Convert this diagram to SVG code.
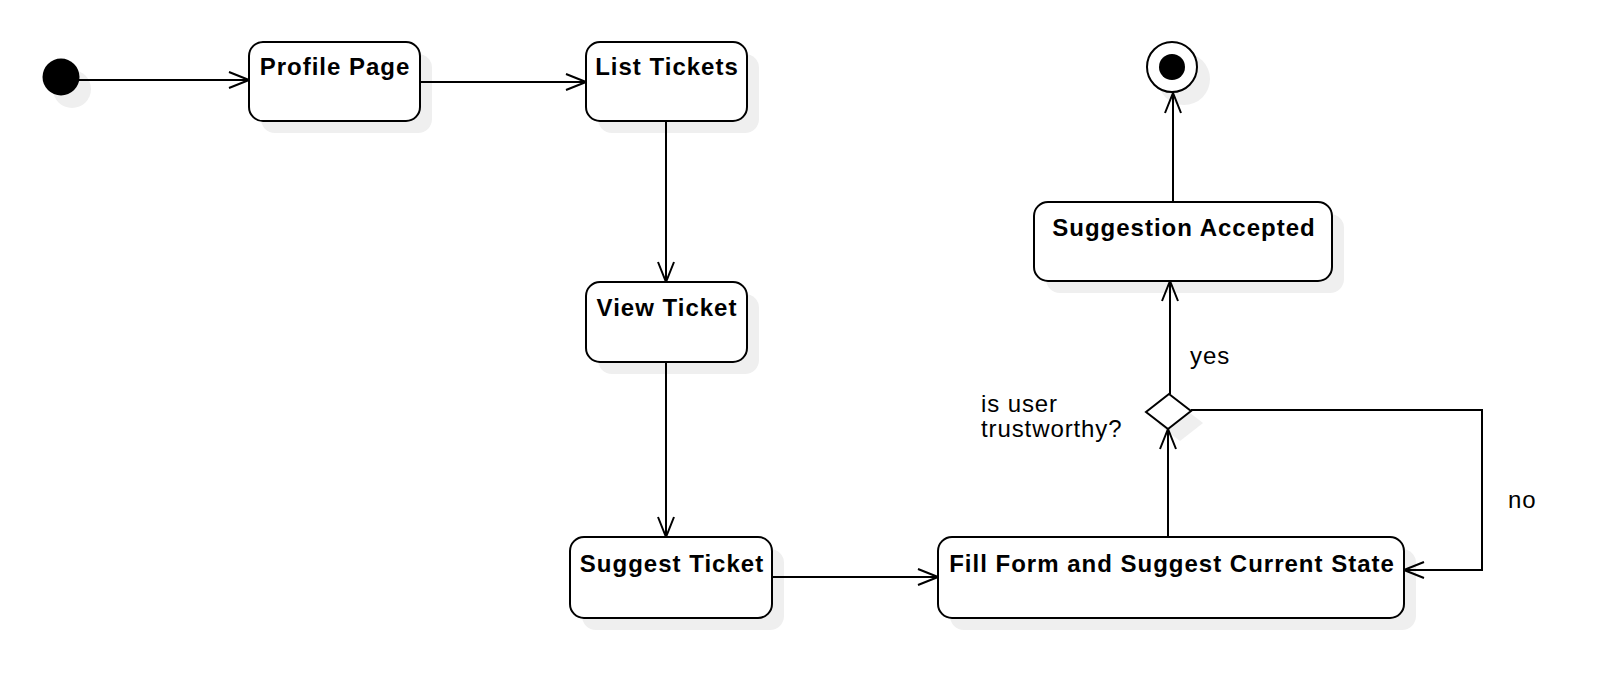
<svg xmlns="http://www.w3.org/2000/svg" width="1604" height="676" viewBox="0 0 1604 676">
<style>
.box{fill:#fff;stroke:#000;stroke-width:2}
.sh{fill:#efefef;stroke:none}
.t{font-family:"Liberation Sans",Arial,sans-serif;font-size:24px;font-weight:bold;letter-spacing:1px;fill:#000;text-anchor:middle}
.l{font-family:"Liberation Sans",Arial,sans-serif;font-size:24px;letter-spacing:0.9px;fill:#000}
.c{fill:none;stroke:#000;stroke-width:2}
</style>
<defs>
<marker id="a" viewBox="0 0 22 18" refX="21" refY="9" markerWidth="22" markerHeight="18" markerUnits="userSpaceOnUse" orient="auto">
<path d="M1,1 L21,9 L1,17" fill="none" stroke="#000" stroke-width="2"/>
</marker>
</defs>
<rect width="1604" height="676" fill="#fff"/>
<g id="initial">
<circle class="sh" cx="72" cy="89" r="19"/>
<circle cx="61" cy="77" r="18.5" fill="#000"/>
</g>
<g id="profile-page">
<rect class="sh" x="261" y="54" width="171" height="79" rx="14"/>
<rect class="box" x="249" y="42" width="171" height="79" rx="14"/>
<text class="t" x="335" y="75">Profile Page</text>
</g>
<g id="list-tickets">
<rect class="sh" x="598" y="54" width="161" height="79" rx="14"/>
<rect class="box" x="586" y="42" width="161" height="79" rx="14"/>
<text class="t" x="667" y="75">List Tickets</text>
</g>
<g id="view-ticket">
<rect class="sh" x="598" y="294" width="161" height="80" rx="14"/>
<rect class="box" x="586" y="282" width="161" height="80" rx="14"/>
<text class="t" x="667" y="316">View Ticket</text>
</g>
<g id="suggest-ticket">
<rect class="sh" x="582" y="549" width="202" height="81" rx="14"/>
<rect class="box" x="570" y="537" width="202" height="81" rx="14"/>
<text class="t" x="672" y="572">Suggest Ticket</text>
</g>
<g id="fill-form">
<rect class="sh" x="950" y="549" width="466" height="81" rx="14"/>
<rect class="box" x="938" y="537" width="466" height="81" rx="14"/>
<text class="t" x="1172" y="572">Fill Form and Suggest Current State</text>
</g>
<g id="decision">
<polygon class="sh" points="1181,406 1203,423 1180,441 1158,424"/>
<polygon class="box" points="1169,394 1191,411 1168,429 1146,412"/>
</g>
<g id="suggestion-accepted">
<rect class="sh" x="1046" y="214" width="298" height="79" rx="14"/>
<rect class="box" x="1034" y="202" width="298" height="79" rx="14"/>
<text class="t" x="1184" y="236">Suggestion Accepted</text>
</g>
<g id="final">
<circle class="sh" cx="1184" cy="79" r="26"/>
<circle cx="1172" cy="67" r="25" fill="#fff" stroke="#000" stroke-width="2"/>
<circle cx="1172" cy="67" r="13" fill="#000"/>
</g>
<g id="connectors">
<line class="c" x1="79" y1="80" x2="249" y2="80" marker-end="url(#a)"/>
<line class="c" x1="420" y1="82" x2="586" y2="82" marker-end="url(#a)"/>
<line class="c" x1="666" y1="121" x2="666" y2="282" marker-end="url(#a)"/>
<line class="c" x1="666" y1="362" x2="666" y2="537" marker-end="url(#a)"/>
<line class="c" x1="772" y1="577" x2="938" y2="577" marker-end="url(#a)"/>
<line class="c" x1="1168" y1="537" x2="1168" y2="429" marker-end="url(#a)"/>
<line class="c" x1="1170" y1="394" x2="1170" y2="281" marker-end="url(#a)"/>
<line class="c" x1="1173" y1="202" x2="1173" y2="93" marker-end="url(#a)"/>
<polyline class="c" points="1191,410 1482,410 1482,570 1404,570" marker-end="url(#a)"/>
<text class="l" x="1190" y="364">yes</text>
<text class="l" x="1508" y="508">no</text>
<text class="l" x="981" y="412">is user</text>
<text class="l" x="981" y="437">trustworthy?</text>
</g>
</svg>
